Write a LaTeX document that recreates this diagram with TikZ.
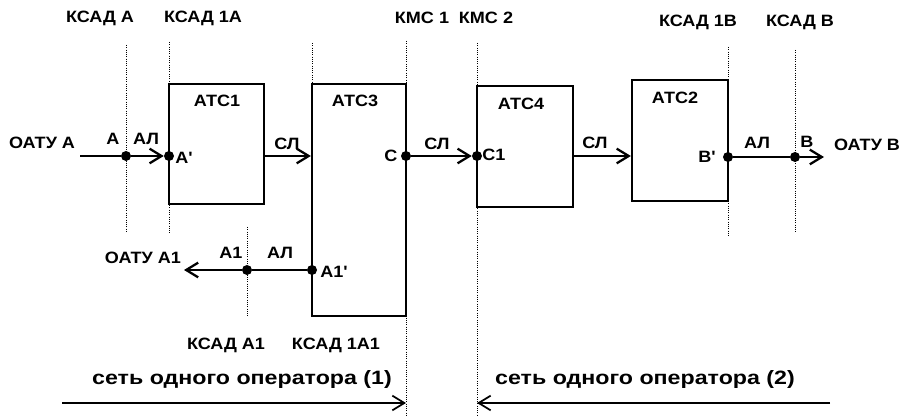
\documentclass[tikz,border=0pt]{standalone}
\usepackage{fontspec}
\newfontfamily\lblfont{Liberation Sans}[FakeStretch=1.1]
\newfontfamily\netfont{Liberation Sans}[FakeStretch=1.2]
\usetikzlibrary{arrows.meta,positioning,fit}

\begin{document}
\begin{tikzpicture}[
    x=0.75pt,y=-0.75pt,
    box/.style={draw,line width=1.7pt,inner sep=0pt},
    lbl/.style={font={\lblfont\bfseries\fontsize{12.3}{14}\selectfont},inner sep=1pt},
    netlbl/.style={font={\netfont\bfseries\fontsize{14.5}{16}\selectfont},inner sep=1pt},
    dot/.style={circle,fill=black,inner sep=0pt,minimum size=7.5pt},
    guide/.style={densely dotted,line width=0.7pt},
    sig/.style={line width=1.7pt},
    arr/.style={sig,-{Straight Barb[length=9pt,width=11pt]}}
  ]
    \useasboundingbox (0,0) rectangle (908,416);
    % dotted boundaries
    \draw[guide] (126,45) -- (126,233);
    \draw[guide] (169,42) -- (169,233);
    \draw[guide] (312,43) -- (312,316);
    \draw[guide] (406,41) -- (406,416);
    \draw[guide] (477,43) -- (477,416);
    \draw[guide] (728,47) -- (728,237);
    \draw[guide] (795,50) -- (795,233);
    \draw[guide] (247,227) -- (247,317);
    % exchanges
    \node[box,fit={(169,84) (264,204)}] (atc1) {};
    \node[box,fit={(312,84) (406,316)}] (atc3) {};
    \node[box,fit={(477,86) (573,207)}] (atc4) {};
    \node[box,fit={(632,80) (728,201)}] (atc2) {};
    \node[lbl] (tAtc1) at (217,101) {АТС1};
    \node[lbl] (tAtc3) at (355,101) {АТС3};
    \node[lbl] (tAtc4) at (521,104) {АТС4};
    \node[lbl] (tAtc2) at (675,98) {АТС2};
    % points
    \node[dot] (dA) at (126,156) {};
    \node[dot] (dAp) at (169,156) {};
    \node[dot] (dC) at (406,156) {};
    \node[dot] (dC1) at (477,156) {};
    \node[dot] (dBp) at (728,157) {};
    \node[dot] (dB) at (795,157) {};
    \node[dot] (dA1) at (247,270) {};
    \node[dot] (dA1p) at (312,270) {};
    \coordinate (inA) at (80,156);
    \coordinate (outB) at (824,157);
    \coordinate (outA1) at (184,270);
    % lines
    \draw[sig] (inA) -- (dA);
    \draw[arr] (dA) -- (dAp);
    \draw[arr] (atc1.east |- dAp) -- (atc3.west |- dAp);
    \draw[arr] (dC) -- (dC1);
    \draw[arr] (atc4.east |- dC1) -- (atc2.west |- dC1);
    \draw[sig] (dBp) -- (dB);
    \draw[arr] (dB) -- (outB);
    \draw[sig] (dA1p) -- (dA1);
    \draw[arr] (dA1) -- (outA1);
    % labels
    \node[lbl] (tKsadA) at (100,18) {КСАД А};
    \node[lbl] (tKsad1A) at (203,18) {КСАД 1А};
    \node[lbl] (tKms1) at (422,18) {КМС 1};
    \node[lbl] (tKms2) at (486,18) {КМС 2};
    \node[lbl] (tKsad1B) at (698,22) {КСАД 1В};
    \node[lbl] (tKsadB) at (800,22) {КСАД В};
    \node[lbl] (tOatuA) at (42,143) {ОАТУ А};
    \node[lbl] (tA) at (113,139) {А};
    \node[lbl] (tAlA) at (146,139) {АЛ};
    \node[lbl] (tAp) at (184,158) {А'};
    \node[lbl] (tSl1) at (287,144) {СЛ};
    \node[lbl] (tC) at (391,156) {С};
    \node[lbl] (tSl2) at (437,144) {СЛ};
    \node[lbl] (tC1) at (494,155) {С1};
    \node[lbl] (tSl3) at (595,143) {СЛ};
    \node[lbl] (tBp) at (707,157) {В'};
    \node[lbl] (tAlB) at (757,143) {АЛ};
    \node[lbl] (tB) at (807,142) {В};
    \node[lbl] (tOatuB) at (867,145) {ОАТУ В};
    \node[lbl] (tOatuA1) at (143,258) {ОАТУ А1};
    \node[lbl] (tA1) at (231,253) {А1};
    \node[lbl] (tAlA1) at (280,253) {АЛ};
    \node[lbl] (tA1p) at (334,272) {А1'};
    \node[lbl] (tKsadA1) at (226,345) {КСАД А1};
    \node[lbl] (tKsad1A1) at (336,345) {КСАД 1А1};
    % operator networks
    \node[netlbl] (net1) at (242,380) {сеть одного оператора (1)};
    \node[netlbl] (net2) at (645,380) {сеть одного оператора (2)};
    \coordinate (n1a) at (62,403);
    \coordinate (n1b) at (406,403);
    \coordinate (n2a) at (830,403);
    \coordinate (n2b) at (477,403);
    \draw[arr,line width=1.3pt] (n1a) -- (n1b);
    \draw[arr,line width=1.3pt] (n2a) -- (n2b);
  \end{tikzpicture}
\end{document}
